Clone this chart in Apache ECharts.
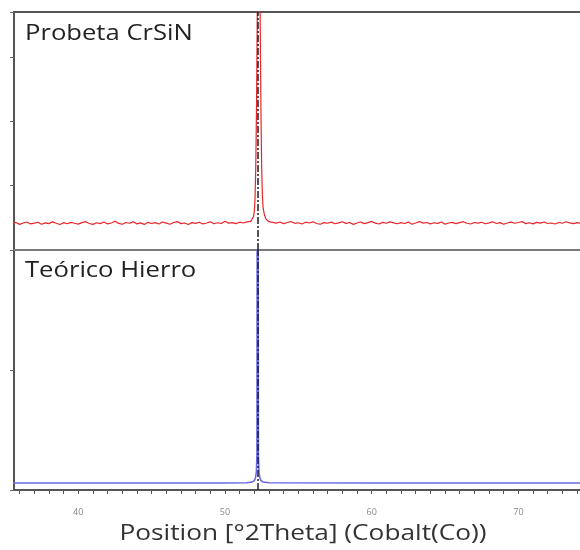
<!DOCTYPE html>
<html>
<head>
<meta charset="utf-8">
<script src="https://cdn.jsdelivr.net/npm/echarts@6/dist/echarts.min.js"></script>
<style>html,body{margin:0;padding:0;background:#fff}#c{width:580px;height:550px}</style>
</head>
<body>
<div id="c"></div>
<script>
// ---- data ----
var redPos = [
35.5,35.75,36,36.25,36.5,36.75,37,37.25,37.5,37.75,
38,38.25,38.5,38.75,39,39.25,39.5,39.75,40,40.25,
40.5,40.75,41,41.25,41.5,41.75,42,42.25,42.5,42.75,
43,43.25,43.5,43.75,44,44.25,44.5,44.75,45,45.25,
45.5,45.75,46,46.25,46.5,46.75,47,47.25,47.5,47.75,
48,48.25,48.5,48.75,49,49.25,49.5,49.75,50,50.25,
50.5,50.75,51,51.25,51.5,51.75,
51.85,51.95,52,52.05,52.1,52.15,52.2,52.25,52.3,52.35,52.4,52.45,52.5,52.55,52.6,52.7,52.8,52.9,53,
53.25,53.5,53.75,54,54.25,54.5,54.75,55,55.25,55.5,
55.75,56,56.25,56.5,56.75,57,57.25,57.5,57.75,58,
58.25,58.5,58.75,59,59.25,59.5,59.75,60,60.25,60.5,
60.75,61,61.25,61.5,61.75,62,62.25,62.5,62.75,63,
63.25,63.5,63.75,64,64.25,64.5,64.75,65,65.25,65.5,
65.75,66,66.25,66.5,66.75,67,67.25,67.5,67.75,68,
68.25,68.5,68.75,69,69.25,69.5,69.75,70,70.25,70.5,
70.75,71,71.25,71.5,71.75,72,72.25,72.5,72.75,73,
73.25,73.5,73.75,74,74.25,74.5
];
var redCounts = [
412,428,398,420,436,405,418,432,400,422,
410,438,415,396,425,408,430,416,402,426,
440,412,398,424,410,435,405,420,446,414,
400,428,416,438,406,422,398,430,412,425,
404,436,418,400,428,442,410,420,396,426,
414,432,405,420,438,408,424,412,448,418,
426,410,432,420,438,446,
470,520,600,800,1300,2200,3600,5500,7000,5500,3600,2200,1300,850,650,540,480,455,440,
430,418,436,410,428,442,415,424,405,432,
420,438,412,400,426,416,434,408,422,440,
414,428,398,420,436,410,426,444,418,404,
430,416,438,422,408,426,412,434,400,420,
442,418,428,406,424,414,436,402,420,430,
410,426,440,416,404,428,418,432,408,422,
438,412,426,400,420,434,416,428,442,410,
424,406,430,418,436,412,420,404,428,416,
440,422,410,426,414,432
];
var bluePos  = [35.5, 45, 50, 51.5, 51.85, 52.0, 52.08, 52.14, 52.18, 52.23, 52.28, 52.32, 52.38, 52.46, 52.6, 53.0, 60, 70, 74.5];
var blueVals = [2.9, 2.9, 2.9, 3.0, 3.3, 3.9, 5, 7.5, 14, 300, 14, 7.5, 5, 3.9, 3.3, 3.0, 2.9, 2.9, 2.9];
var refPeak = 52.23;
var xLabelValues = [40, 50, 60, 70];
var xTickValues = [36,37,38,39,40,41,42,43,44,45,46,47,48,49,50,51,52,53,54,55,56,57,58,59,60,61,62,63,64,65,66,67,68,69,70,71,72,73,74];
var topLabel = 'Probeta CrSiN';
var bottomLabel = 'Teórico Hierro';
var xName = 'Position [°2Theta] (Cobalt(Co))';

function pairs(xs, ys){ return xs.map(function(x,i){ return [x, ys[i]]; }); }

var chart = echarts.init(document.getElementById('c'), null, {renderer:'canvas'});
var font = '"Open Sans", "Noto Sans", sans-serif';
var xMin = 35.62, xMax = 74.2;
chart.setOption({
  animation: false,
  backgroundColor: '#fff',
  graphic: [
    {type:'text', left: 25, top: 24, scaleX: 1.22, silent:true,
     style:{text: topLabel, font: '21px ' + font, fill:'#222'}},
    {type:'text', left: 25, top: 261, scaleX: 1.22, silent:true,
     style:{text: bottomLabel, font: '21px ' + font, fill:'#222'}},
    {type:'text', x: 303, y: 534, scaleX: 1.25, silent:true,
     style:{text: xName, font: '21px ' + font, fill:'#333', align:'center', verticalAlign:'middle'}}
  ],
  grid: [
    {left: 14, right: 0, top: 12, height: 238},
    {left: 14, right: 0, top: 250, height: 240}
  ],
  xAxis: [
    {type:'value', gridIndex:0, min:xMin, max:xMax, position:'bottom',
     axisLine:{show:true, onZero:false, lineStyle:{color:'#7a7a7a', width:2}},
     axisTick:{show:false}, axisLabel:{show:false}, splitLine:{show:false}},
    {type:'value', gridIndex:0, min:xMin, max:xMax, position:'top',
     axisLine:{show:true, onZero:false, lineStyle:{color:'#555', width:2}},
     axisTick:{show:false}, axisLabel:{show:false}, splitLine:{show:false}},
    {type:'value', gridIndex:1, min:xMin, max:xMax, position:'bottom',
     axisLine:{show:true, onZero:false, lineStyle:{color:'#555', width:2}},
     axisTick:{show:true, length:4, customValues: xTickValues, lineStyle:{color:'#555', width:1}},
     axisLabel:{show:false}, splitLine:{show:false}},
    {type:'value', gridIndex:1, min:xMin, max:xMax, position:'bottom',
     axisLine:{show:false, onZero:false},
     axisTick:{show:false},
     axisLabel:{show:true, customValues: xLabelValues, fontSize:9, color:'#888', fontFamily: font, margin:18},
     splitLine:{show:false}}
  ],
  yAxis: [
    {type:'value', gridIndex:0, min:0, max:3700, interval:1000,
     axisLine:{show:true, onZero:false, lineStyle:{color:'#555', width:2}},
     axisTick:{show:true, length:4, lineStyle:{color:'#666'}},
     axisLabel:{show:false}, splitLine:{show:false}},
    {type:'value', gridIndex:1, min:0, max:100, interval:50,
     axisLine:{show:true, onZero:false, lineStyle:{color:'#555', width:2}},
     axisTick:{show:true, length:4, lineStyle:{color:'#666'}},
     axisLabel:{show:false}, splitLine:{show:false}}
  ],
  series: [
    {type:'line', xAxisIndex:0, yAxisIndex:0, data: pairs(redPos, redCounts),
     showSymbol:false, clip:true, lineStyle:{color:'#e8262a', width:1.2},
     markLine:{silent:true, symbol:'none', label:{show:false},
       lineStyle:{color:'#1e1e1e', type:[7,2,2,2], width:1.5},
       data:[{xAxis: refPeak}]}},
    {type:'line', xAxisIndex:2, yAxisIndex:1, data: pairs(bluePos, blueVals),
     showSymbol:false, clip:true, lineStyle:{color:'#6a6ae0', width:1.6},
     markLine:{silent:true, symbol:'none', label:{show:false},
       lineStyle:{color:'#1c1c3a', type:[7,2,2,2], width:1.5},
       data:[{xAxis: refPeak}]}}
  ]
});
</script>
</body>
</html>
